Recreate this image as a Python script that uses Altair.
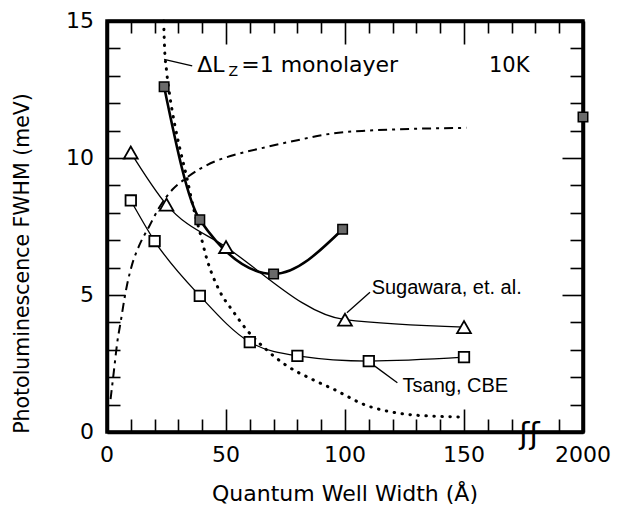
import altair as alt
import pandas as pd

# ---------------- data ----------------
# Sugawara, et. al. (open triangles)
sug_x = [10, 25, 50, 100, 150]
sug_y = [10.2, 8.3, 6.75, 4.1, 3.83]
# Tsang, CBE (open squares)
tsang_x = [10, 20, 39, 60, 80, 110, 150]
tsang_y = [8.45, 6.97, 4.97, 3.28, 2.78, 2.59, 2.73]
# hatched squares (solid curve through first four)
hat_x = [24, 39, 70, 99]
hat_y = [12.6, 7.75, 5.77, 7.4]
hat_far_x = [2000]
hat_far_y = [11.5]
# dotted curve: Delta Lz = 1 monolayer
dot_x = [23.8, 24.2, 25, 26.5, 28.5, 31, 33.5, 36, 39, 42, 47, 53, 58.5, 67, 75, 86, 95, 109, 123, 136, 148.5]
dot_y = [15, 14, 13.2, 12.2, 11.2, 10.2, 9.3, 8.3, 7.3, 6.3, 5.2, 4.4, 3.75, 3.0, 2.45, 1.93, 1.57, 0.97, 0.68, 0.58, 0.55]
# dash-dot curve
dash_x = [1.5, 3, 4.2, 5.9, 7.2, 8.5, 10.5, 13.5, 17.7, 22, 27.5, 33, 39, 46, 53, 67, 80, 95, 110, 123, 151]
dash_y = [1.2, 2.3, 3.2, 4.1, 4.8, 5.4, 6.1, 6.8, 7.5, 8.2, 8.85, 9.25, 9.6, 9.9, 10.1, 10.4, 10.65, 10.9, 11.0, 11.05, 11.1]

# axis labels (2000 sits at the far end of the broken axis)
x_label_values = [0, 50, 100, 150, 2000]
x_label_text = ["0", "50", "100", "150", "2000"]
y_label_values = [0, 5, 10, 15]
y_label_text = ["0", "5", "10", "15"]
x_title = "Quantum Well Width (Å)"
y_title = "Photoluminescence FWHM (meV)"

x_tick_bottom = [0, 10, 20, 30, 40, 50, 60, 70, 80, 90, 100, 110, 120, 130, 140, 150, 160, 170, 190, 200]
x_tick_top = [0, 10, 20, 30, 40, 50, 60, 70, 80, 90, 100, 110, 120, 130, 140, 150, 160, 170, 180, 190, 200]
y_ticks = [0, 1, 2, 3, 4, 5, 6, 7, 8, 9, 10, 11, 12, 13, 14, 15]

# ---------------- layout ----------------
W, H = 476, 411
XMAX, YMAX = 200, 15
FONT = "DejaVu Sans"
FONT2 = "Liberation Sans"


def xpos(v):
    # broken axis: values beyond the break are drawn at the far right (2000)
    return v if v <= 160 else XMAX


xs = alt.Scale(domain=[0, XMAX], nice=False, zero=False)
ys = alt.Scale(domain=[0, YMAX], nice=False, zero=False)


def df(x, y, **kw):
    d = pd.DataFrame({"x": [float(xpos(v)) for v in x], "y": [float(v) for v in y]})
    for k, v in kw.items():
        d[k] = v
    return d


X = lambda: alt.X("x:Q", scale=xs, axis=None)
Y = lambda: alt.Y("y:Q", scale=ys, axis=None)

X_MAJOR = "datum.value == 50 || datum.value == 100 || datum.value == 150"
Y_MAJOR = "datum.value == 5 || datum.value == 10"


def edge_axis(orient, offset, values, major_test, short, long):
    # axis moved onto the opposite edge, so its ticks point into the plot;
    # its domain line forms the frame
    return alt.Axis(
        orient=orient, offset=offset, values=values, labels=False, title=None, grid=False,
        domain=True, domainColor="black", domainWidth=3.5,
        ticks=True, tickColor="black", tickWidth=1.6,
        tickSize={"condition": {"test": major_test, "value": long}, "value": short})


span = pd.DataFrame({"x": [0.0, float(XMAX)], "y": [0.0, float(YMAX)]})
axes_a = alt.Chart(span).mark_point(opacity=0).encode(
    x=alt.X("x:Q", scale=xs, axis=edge_axis("top", -H, x_tick_bottom, X_MAJOR, 13, 23)),
    y=alt.Y("y:Q", scale=ys, axis=edge_axis("right", -W, y_ticks, Y_MAJOR, 13, 18)))
axes_b = alt.Chart(span).mark_point(opacity=0).encode(
    x=alt.X("x:Q", scale=xs, axis=edge_axis("bottom", -H, x_tick_top, X_MAJOR, 12, 23)),
    y=alt.Y("y:Q", scale=ys, axis=edge_axis("left", -W, y_ticks, Y_MAJOR, 13, 21)))

# ---------------- axis labels and titles (text) ----------------
xlab = alt.Chart(pd.DataFrame({"x": [float(xpos(v)) for v in x_label_values], "y": 0.0, "t": x_label_text})).mark_text(
    font=FONT, fontSize=22, color="black", baseline="top", align="center", dy=13
).encode(x=X(), y=Y(), text="t:N")
ylab = alt.Chart(pd.DataFrame({"x": 0.0, "y": [float(v) for v in y_label_values], "t": y_label_text})).mark_text(
    font=FONT, fontSize=22, color="black", baseline="middle", align="right", dx=-13
).encode(x=X(), y=Y(), text="t:N")
xtitle = alt.Chart(pd.DataFrame({"t": [x_title]})).mark_text(
    font=FONT, fontSize=22, color="black", baseline="middle", align="center"
).encode(x=alt.value(W / 2), y=alt.value(H + 62), text="t:N")
ytitle = alt.Chart(pd.DataFrame({"t": [y_title]})).mark_text(
    font=FONT, fontSize=20.5, color="black", baseline="middle", align="center", angle=270
).encode(x=alt.value(-84), y=alt.value(H / 2 + 37), text="t:N")

# ---------------- curves ----------------
dotted = alt.Chart(df(dot_x, dot_y)).mark_line(
    color="black", strokeWidth=3, strokeDash=[0.5, 7.5], interpolate="monotone", strokeCap="round"
).encode(x=X(), y=Y(), order="x:Q")

dashdot = alt.Chart(df(dash_x, dash_y)).mark_line(
    color="black", strokeWidth=2, strokeDash=[9, 5, 3, 5], interpolate="monotone"
).encode(x=X(), y=Y())

hat_line = alt.Chart(df(hat_x, hat_y)).mark_line(
    color="black", strokeWidth=2.6, interpolate="monotone").encode(x=X(), y=Y())
sug_line = alt.Chart(df(sug_x, sug_y)).mark_line(
    color="black", strokeWidth=1.3, interpolate="monotone").encode(x=X(), y=Y())
tsang_line = alt.Chart(df(tsang_x, tsang_y)).mark_line(
    color="black", strokeWidth=1.3, interpolate="monotone").encode(x=X(), y=Y())

sug_pts = alt.Chart(df(sug_x, sug_y)).mark_point(
    shape="triangle-up", size=190, filled=True, fill="white", stroke="black", strokeWidth=1.8, opacity=1
).encode(x=X(), y=Y())
tsang_pts = alt.Chart(df(tsang_x, tsang_y)).mark_point(
    shape="square", size=110, filled=True, fill="white", stroke="black", strokeWidth=1.8, opacity=1
).encode(x=X(), y=Y())
hat_pts = alt.Chart(df(hat_x + hat_far_x, hat_y + hat_far_y)).mark_point(
    shape="square", size=90, filled=True, fill="#6a6a6a", stroke="black", strokeWidth=1.5, opacity=1
).encode(x=X(), y=Y())

# ---------------- annotations ----------------
leaders = pd.DataFrame({
    "x": [24.0, 100.8, 111.8], "x2": [35.8, 110.5, 122.0],
    "y": [13.6, 4.35, 2.45], "y2": [13.36, 5.1, 1.8]})
leader = alt.Chart(leaders).mark_rule(color="black", strokeWidth=1.3).encode(
    x=X(), x2="x2:Q", y=Y(), y2="y2:Q")


def label(text, x, y, size, font=FONT, baseline="alphabetic", align="left"):
    return alt.Chart(pd.DataFrame({"x": [x], "y": [y], "t": [text]})).mark_text(
        font=font, fontSize=size, color="black", align=align, baseline=baseline
    ).encode(x=X(), y=Y(), text="t:N")


texts = [
    label("ΔL", 37.9, 13.14, 22),
    label("Z", 51.0, 12.98, 14),
    label("=1 monolayer", 56.4, 13.14, 22),
    label("10K", 160.5, 13.14, 21),
    label("Sugawara, et. al.", 111.2, 5.04, 20, FONT2),
    label("Tsang, CBE", 124.2, 1.46, 20, FONT2),
    label("ʃʃ", 177.5, -0.1, 30, FONT, baseline="middle", align="center"),
]

chart = alt.layer(
    axes_a, axes_b, dotted, dashdot, hat_line, sug_line, tsang_line,
    leader, sug_pts, tsang_pts, hat_pts, xlab, ylab, xtitle, ytitle, *texts
).resolve_axis(x="independent", y="independent").properties(
    width=W, height=H,
    padding={"left": 12, "top": 10, "right": 5, "bottom": 5},
    background="white",
).configure_view(stroke="black", strokeWidth=3.5)

chart.save("out.html", embed_options={"renderer": "svg", "actions": False})
